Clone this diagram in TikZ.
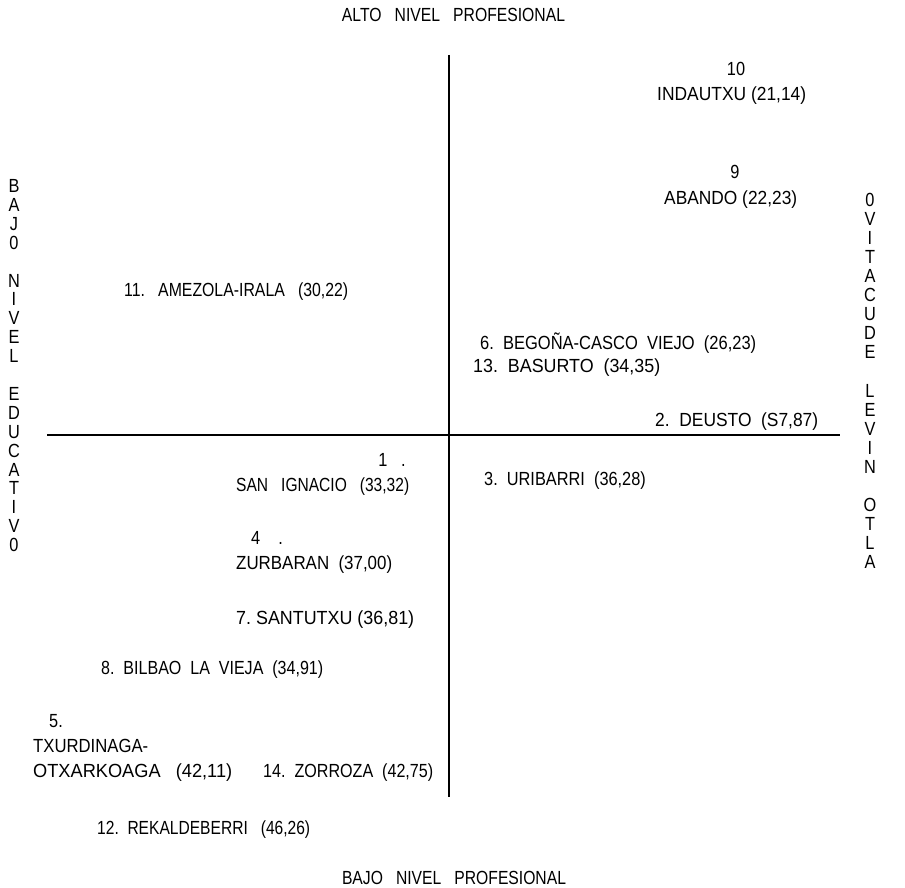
\documentclass[tikz,border=0pt]{standalone}
\usepackage{graphicx}
\usepackage{fontspec}
\setmainfont[FakeStretch=0.86]{Liberation Sans}
\newcommand{\fw}[2]{\resizebox{#1pt}{\height}{#2}}
\begin{document}
\begin{tikzpicture}[x=1pt,y=-1pt,
  lbl/.style={inner sep=0pt, anchor=west, font=\fontsize{19}{20}\selectfont},
  ctr/.style={inner sep=0pt, font=\fontsize{19}{20}\selectfont},
  axisline/.style={line width=1.8pt, line cap=butt}]
\useasboundingbox (0,0) rectangle (905,888);
% titles
\node[ctr] (top) at (453.5,15) {\fw{223}{ALTO\ \ \ NIVEL\ \ \ PROFESIONAL}};
\node[ctr] (bot) at (454,878) {\fw{224}{BAJO\ \ \ NIVEL\ \ \ PROFESIONAL}};
% axes
\coordinate (vt) at (449,55);
\coordinate (vb) at (449,797);
\coordinate (hl) at (47,435);
\coordinate (hr) at (840,435);
\draw[axisline] (vt) -- (vb);
\draw[axisline] (hl) -- (hr);
% left vertical text
\foreach \c/\k in {B/0,A/1,J/2,0/3,N/5,I/6,V/7,E/8,L/9,E/11,D/12,U/13,C/14,A/15,T/16,I/17,V/18,0/19}
  \node[ctr] (left\k) at (14,186+\k*18.9) {\c};
% right vertical text
\foreach \c/\k in {0/0,V/1,I/2,T/3,A/4,C/5,U/6,D/7,E/8,L/10,E/11,V/12,I/13,N/14,O/16,T/17,L/18,A/19}
  \node[ctr] (right\k) at (870,200+\k*19.05) {\c};
% upper right quadrant
\node[ctr] (n10) at (736,69) {10};
\node[lbl] (indautxu) at (657,96) {\fw{149}{INDAUTXU\ (21,14)}};
\node[ctr] (n9) at (735,172) {9};
\node[lbl] (abando) at (664,200) {\fw{133}{ABANDO (22,23)}};
\node[lbl] (begona) at (480,343) {\fw{276}{6.\ \ BEGOÑA-CASCO\ \ VIEJO\ \ (26,23)}};
\node[lbl] (basurto) at (473,368) {\fw{187}{13.\ \ BASURTO\ \ (34,35)}};
\node[lbl] (deusto) at (655,422) {\fw{163}{2.\ \ DEUSTO\ \ (S7,87)}};
% upper left
\node[lbl] (amezola) at (124,292) {\fw{224}{11.\ \ \ AMEZOLA-IRALA\ \ \ (30,22)}};
% lower right
\node[lbl] (uribarri) at (484,481) {3.\ \ URIBARRI\ \ (36,28)};
% lower left
\node[ctr] (n1) at (392,460) {1\ \ \ .};
\node[lbl] (sanignacio) at (236,487) {\fw{173}{SAN\ \ \ IGNACIO\ \ \ (33,32)}};
\node[ctr] (n4) at (267,538) {4\ \ \ \ .};
\node[lbl] (zurbaran) at (236,565) {\fw{156}{ZURBARAN\ \ (37,00)}};
\node[lbl] (santutxu) at (236,620) {\fw{178}{7.\ SANTUTXU (36,81)}};
\node[lbl] (bilbao) at (101,670) {\fw{222}{8.\ \ BILBAO\ \ LA\ \ VIEJA\ \ (34,91)}};
\node[lbl] (n5) at (49,721) {5.};
\node[lbl] (txurdinaga) at (33,746) {\fw{115}{TXURDINAGA-}};
\node[lbl] (otxarkoaga) at (33,773) {\fw{199}{OTXARKOAGA\ \ \ (42,11)}};
\node[lbl] (zorroza) at (263,773) {\fw{170}{14.\ \ ZORROZA\ \ (42,75)}};
\node[lbl] (rekaldeberri) at (97,830) {\fw{213}{12.\ \ REKALDEBERRI\ \ \ (46,26)}};
\end{tikzpicture}
\end{document}
